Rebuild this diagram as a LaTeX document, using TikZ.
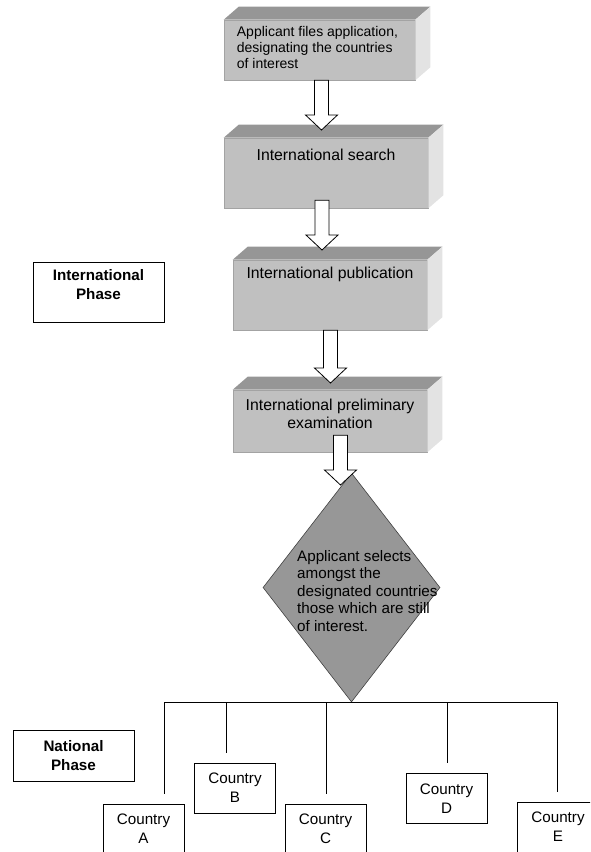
\documentclass[tikz,border=0pt]{standalone}
\usepackage{fontspec}
\setmainfont{Liberation Sans}
\usetikzlibrary{shapes.geometric}
\definecolor{facegray}{HTML}{C0C0C0}
\definecolor{topgray}{HTML}{969696}
\definecolor{sidegray}{HTML}{E3E3E3}
\definecolor{diagray}{HTML}{979797}
\begin{document}
\begin{tikzpicture}[x=1pt,y=-1pt]
\tikzset{stepbox/.style={rectangle, fill=facegray, draw=facegray!85!black, line width=0.6pt, inner sep=0pt},
  steptext/.style={inner sep=0pt, font=\fontsize{15.8}{17.5}\selectfont, align=center},
  phasebox/.style={draw, rectangle, line width=0.8pt, inner sep=0pt, font=\bfseries\fontsize{15.2}{19}\selectfont, align=center},
  countrybox/.style={draw, rectangle, line width=0.8pt, minimum width=81pt, minimum height=50pt, inner sep=0pt, font=\fontsize{15.2}{19}\selectfont, align=center},
  blockarrow/.style={draw=black, fill=white, line width=0.8pt, to path={([xshift=-7pt,yshift=#1]\tikztostart) -- ([xshift=-7pt,yshift=15pt]\tikztotarget) -- ([xshift=-16pt,yshift=15pt]\tikztotarget) -- (\tikztotarget) -- ([xshift=16pt,yshift=15pt]\tikztotarget) -- ([xshift=7pt,yshift=15pt]\tikztotarget) -- ([xshift=7pt,yshift=#1]\tikztostart) -- cycle}},
  blockarrow/.default=0pt}
\useasboundingbox (0,0) rectangle (590,852);
\clip (0,0) rectangle (590,852);
\node[stepbox, minimum width=191pt, minimum height=60pt] (b1) at (319.5,50) {};
\node[stepbox, minimum width=204pt, minimum height=70pt] (b2) at (326,173) {};
\node[stepbox, minimum width=194pt, minimum height=70pt] (b3) at (330,295) {};
\node[stepbox, minimum width=194pt, minimum height=62pt] (b4) at (330,421) {};
\foreach \b in {b1,b2,b3,b4} {
  \fill[topgray] (\b.north west) -- ++(15,-13) -- ([shift={(15,-13)}]\b.north east) -- (\b.north east) -- cycle;
  \fill[sidegray] (\b.north east) -- ++(15,-13) -- ([shift={(15,-13)}]\b.south east) -- (\b.south east) -- cycle;
}
\node[steptext, align=left, anchor=west, font=\fontsize{14}{16}\selectfont] (b1t) at ([xshift=13pt,yshift=3pt]b1.west) {Applicant files application,\\designating the countries\\of interest};
\node[steptext] (b2t) at ([yshift=-17pt]b2.north) {International search};
\node[steptext] (b3t) at ([yshift=-15pt]b3.north) {International publication};
\node[steptext] (b4t) at ([yshift=-24pt]b4.north) {International preliminary\\examination};
\node[phasebox, minimum width=131pt, minimum height=60pt, text depth=15pt] (intl) at (98.5,292) {International\\Phase};
\node[diamond, fill=diagray, draw=black!75, line width=0.6pt, minimum width=177pt, minimum height=229pt, inner sep=0pt] (sel) at (351.5,587.5) {};
\node[steptext, align=left, anchor=west, font=\fontsize{15.2}{17.5}\selectfont] (selt) at (297,591) {Applicant selects\\amongst the\\designated countries\\those which are still\\of interest.};
\coordinate (a1) at (321.5,130);
\coordinate (a2) at (322,250);
\coordinate (a3) at (330.5,383);
\coordinate (a4) at (340.5,485);
\draw[blockarrow] (b1.south -| a1) to (a1);
\draw[blockarrow=8pt] (b2.south -| a2) to (a2);
\draw[blockarrow] (b3.south -| a3) to (a3);
\draw[blockarrow=17pt] (b4.south -| a4) to (a4);
\node[phasebox, minimum width=121pt, minimum height=51pt] (natl) at (73.5,755.5) {National\\Phase};
\node[countrybox] (ca) at (143.5,829) {Country\\A};
\node[countrybox] (cb) at (235,788) {Country\\B};
\node[countrybox] (cc) at (325.5,829) {Country\\C};
\node[countrybox] (cd) at (446.5,798.5) {Country\\D};
\node[countrybox] (ce) at (558,827) {Country\\E};
\draw[line width=0.8pt] (sel.south) -| ([xshift=20.5pt,yshift=10pt]ca.north);
\draw[line width=0.8pt] (sel.south) -| ([xshift=-9pt,yshift=10pt]cb.north);
\draw[line width=0.8pt] (sel.south) -| ([xshift=0.5pt,yshift=10pt]cc.north);
\draw[line width=0.8pt] (sel.south) -| ([xshift=0.5pt,yshift=10pt]cd.north);
\draw[line width=0.8pt] (sel.south) -| ([xshift=-1pt,yshift=10pt]ce.north);
\end{tikzpicture}
\end{document}
